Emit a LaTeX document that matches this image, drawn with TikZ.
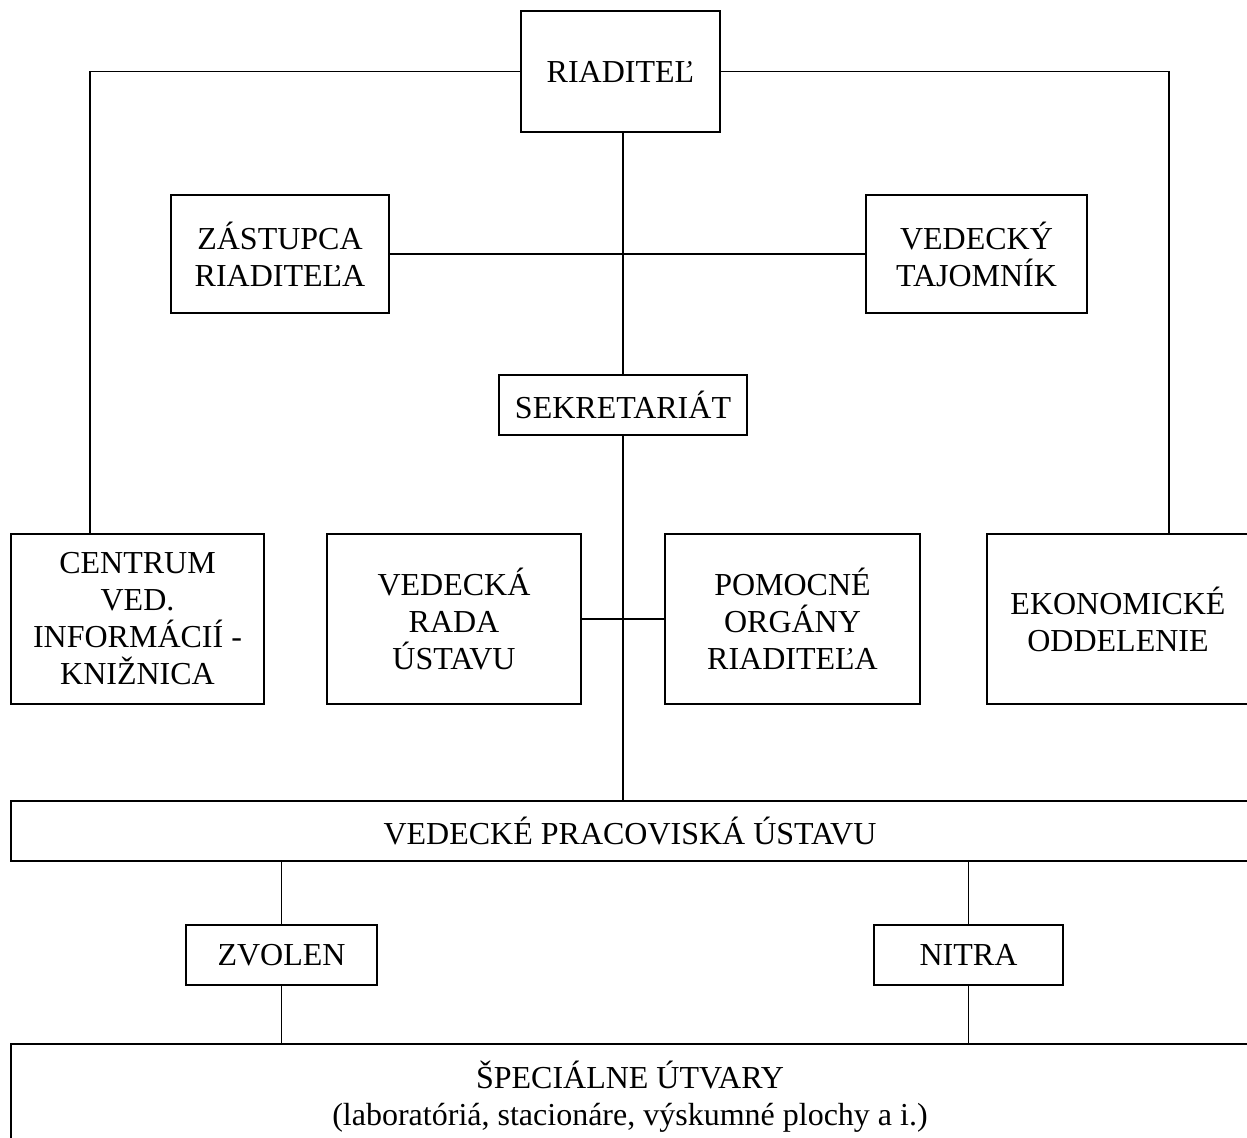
\documentclass[tikz,border=0pt]{standalone}
\usepackage{fontspec}
\setmainfont{Liberation Serif}
\begin{document}
\begin{tikzpicture}[x=0.5pt,y=-0.5pt,
  box/.style={draw,line width=0.95pt,align=center,inner sep=0pt,
    font=\fontsize{16pt}{18.5pt}\selectfont},
  conn/.style={line width=0.95pt}]
\useasboundingbox (0,0) rectangle (1247,1137);
\clip (0,0) rectangle (1247,1137);
\node[box,minimum width=99.5pt,minimum height=60.5pt] (riad) at (620.5,71.5) {RIADITEĽ};
\node[box,minimum width=109pt,minimum height=59pt] (zast) at (280,254) {ZÁSTUPCA\\RIADITEĽA};
\node[box,minimum width=110.5pt,minimum height=59pt] (ved) at (976.5,254) {VEDECKÝ\\TAJOMNÍK};
\node[box,minimum width=124pt,minimum height=30pt] (sek) at (623,405) {SEKRETARIÁT};
\node[box,minimum width=126.5pt,minimum height=85pt] (cent) at (137.5,619) {CENTRUM\\VED.\\INFORMÁCIÍ -\\KNIŽNICA};
\node[box,minimum width=127pt,minimum height=85pt] (rada) at (454,619) {VEDECKÁ\\RADA\\ÚSTAVU};
\node[box,minimum width=127.5pt,minimum height=85pt] (pom) at (792.5,619) {POMOCNÉ\\ORGÁNY\\RIADITEĽA};
\node[box,minimum width=131pt,minimum height=85pt] (ekon) at (1118,619) {EKONOMICKÉ\\ODDELENIE};
\node[box,minimum width=619pt,minimum height=30pt] (vpu) at (630,831) {VEDECKÉ PRACOVISKÁ ÚSTAVU};
\node[box,minimum width=95.5pt,minimum height=30pt] (zvol) at (281.5,955) {ZVOLEN};
\node[box,minimum width=94.5pt,minimum height=30pt] (nitra) at (968.5,955) {NITRA};
\node[box,minimum width=619pt,minimum height=53pt] (spec) at (630,1097) {ŠPECIÁLNE ÚTVARY\\(laboratóriá, stacionáre, výskumné plochy a i.)};
\coordinate (cl) at (90,0);
\coordinate (cr) at (1169,0);
\draw[conn] (riad.west) -| (cl |- cent.north);
\draw[conn] (riad.east) -| (cr |- ekon.north);
\draw[conn] (sek.north |- riad.south) -- (sek.north);
\draw[conn] (zast.east) -- (ved.west);
\draw[conn] (sek.south) -- (sek.south |- vpu.north);
\draw[conn] (rada.east) -- (pom.west);
\draw[conn] (zvol.north) -- (zvol.north |- vpu.south);
\draw[conn] (zvol.south) -- (zvol.south |- spec.north);
\draw[conn] (nitra.north) -- (nitra.north |- vpu.south);
\draw[conn] (nitra.south) -- (nitra.south |- spec.north);
\end{tikzpicture}
\end{document}
